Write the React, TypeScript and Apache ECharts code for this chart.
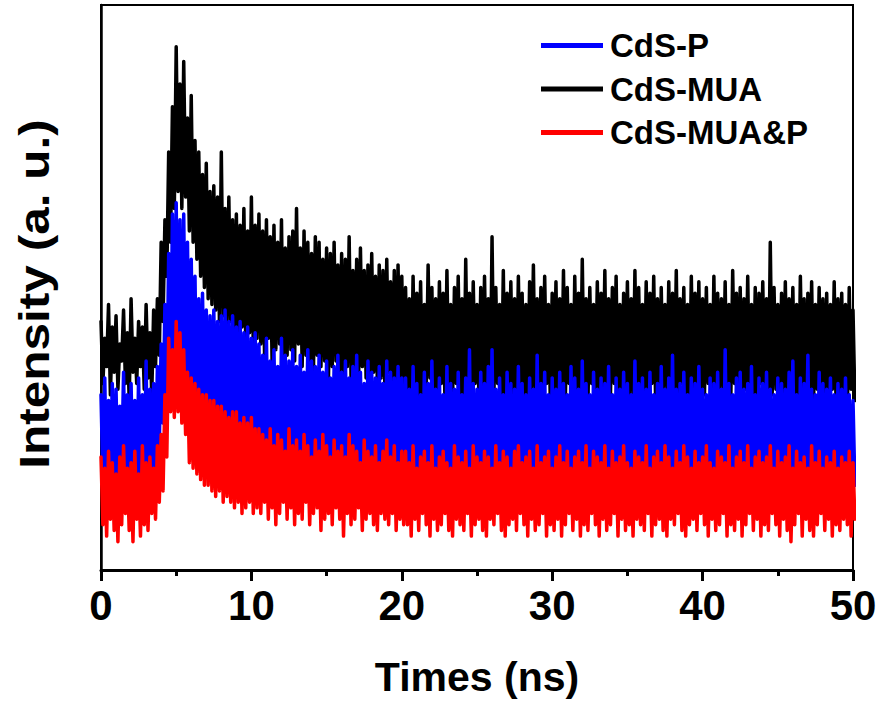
import React, { useEffect, useRef } from "react";
import * as echarts from "echarts";

const TIME_STEP = 0.25; // ns between envelope samples
const X_MIN = 0;
const X_MAX = 50;
const X_INTERVAL = 10;
const LEGEND_ORDER = ["CdS-P", "CdS-MUA", "CdS-MUA&P"];

// CdS-MUA (black): upper and lower excursions of the noisy trace, every 0.25 ns
const cdsMUAHigh = [
  44, 41, 47, 43, 45, 40, 46, 42, 48, 41, 44, 43, 47, 42, 46,
  48, 58, 62, 74, 82, 92.6, 86, 90, 80,
  84, 76, 74, 70, 72, 67, 68, 66, 74, 64, 66, 62, 63, 61, 64, 60, 66, 61,
  63, 60, 62, 59, 61, 58, 62, 57, 59, 60, 64, 57, 60, 58, 56, 59, 58, 55, 57, 56,
  58, 54, 56, 55, 59, 53, 55, 57, 53, 54, 56, 52, 54, 53, 55, 51, 53, 54, 52,
  50, 48, 52, 49, 51, 47, 54, 50, 48, 51,
  49, 53, 47, 50, 52, 48, 55, 49, 51, 47,
  50, 52, 48, 59, 50, 47, 53, 49, 51, 48,
  52, 49, 47, 51, 54, 48, 50, 52, 47, 49,
  51, 48, 53, 50, 47, 52, 49, 55, 48, 50,
  47, 51, 49, 53, 48, 50, 52, 47, 49, 51,
  48, 53, 50, 47, 51, 49, 52, 48, 50, 47,
  51, 49, 53, 48, 50, 47, 52, 49, 51, 48,
  50, 47, 52, 49, 48, 51, 47, 53, 49, 50,
  48, 52, 47, 50, 49, 51, 48, 58, 50, 47,
  49, 51, 48, 50, 47, 52, 48, 49, 51, 47,
  50, 48, 49, 47, 51, 48, 49, 47, 50, 46,
];
const cdsMUALow = [
  33, 36, 31, 35, 32, 37, 33, 30, 35, 33, 36, 32, 34, 31, 36,
  38, 44, 52, 58, 64, 67, 64, 66, 60,
  58, 55, 52, 50, 48, 47, 46, 44, 45, 43, 44, 42, 41, 43, 40, 42, 39, 41,
  40, 38, 41, 37, 39, 40, 36, 38, 39, 37, 40, 36, 38, 37, 35, 38, 36, 37, 34, 36,
  37, 35, 33, 36, 34, 35, 33, 36, 34, 32, 35, 33, 34, 32, 35, 33, 31, 34, 32,
  32, 30, 33, 31, 29, 32, 34, 30, 31, 33,
  29, 32, 30, 33, 31, 28, 32, 30, 33, 31,
  30, 32, 29, 31, 33, 30, 28, 32, 31, 30,
  33, 29, 31, 32, 30, 28, 31, 33, 30, 32,
  29, 31, 30, 33, 28, 32, 30, 31, 29, 33,
  31, 30, 32, 28, 31, 33, 29, 30, 32, 31,
  30, 28, 32, 31, 29, 33, 30, 27, 31, 32,
  29, 31, 30, 33, 28, 31, 32, 30, 29, 31,
  33, 30, 28, 32, 31, 29, 30, 33, 31, 28,
  32, 30, 31, 29, 33, 30, 28, 31, 32, 30,
  29, 31, 33, 30, 28, 32, 30, 31, 29, 32,
  30, 28, 31, 32, 29, 31, 30, 28, 32, 30,
];

// CdS-P (blue)
const cdsPHigh = [
  31, 34, 30, 33, 32, 29, 35, 31, 33, 30, 34, 31, 37, 32, 33,
  36, 40, 47, 56, 63, 65, 62, 63, 58,
  55, 52, 48, 49, 46, 45, 46, 44, 45, 46, 44, 45, 43, 44, 42, 43, 41, 42,
  40, 38, 41, 37, 39, 36, 41, 38, 37, 39, 36, 38, 35, 39, 37, 36, 38, 35, 37, 34,
  36, 38, 35, 37, 34, 36, 38, 35, 33, 37, 35, 34, 36, 33, 37, 35, 34, 36, 34,
  34, 32, 36, 33, 31, 35, 33, 37, 32, 34,
  31, 36, 33, 32, 35, 31, 34, 39, 33, 32,
  35, 33, 36, 39, 32, 34, 31, 35, 33, 32,
  36, 33, 31, 34, 32, 38, 33, 35, 31, 34,
  32, 35, 33, 31, 36, 34, 32, 37, 33, 31,
  35, 32, 34, 33, 36, 31, 34, 32, 35, 33,
  31, 37, 33, 34, 32, 35, 31, 33, 36, 32,
  34, 38, 32, 33, 35, 31, 34, 33, 36, 32,
  31, 34, 33, 35, 32, 39, 33, 31, 34, 35,
  32, 33, 36, 31, 34, 33, 35, 32, 31, 34,
  33, 32, 35, 37, 31, 34, 33, 38, 32, 31,
  35, 33, 32, 34, 31, 33, 32, 34, 31, 30,
];
const cdsPLow = [
  16, 13, 17, 12, 15, 18, 13, 11, 16, 14, 12, 17, 10, 15, 18,
  22, 26, 30, 32, 31, 33, 30, 32, 29,
  28, 26, 27, 25, 24, 26, 23, 25, 24, 22, 23, 24, 21, 23, 22, 20, 22, 21,
  19, 21, 18, 20, 19, 17, 20, 18, 21, 17, 19, 18, 20, 16, 18, 19, 17, 18, 16, 19,
  17, 18, 15, 19, 17, 16, 18, 15, 17, 16, 18, 15, 17, 16, 14, 17, 15, 16, 17,
  16, 14, 17, 13, 15, 12, 16, 14, 17, 13,
  15, 12, 16, 14, 13, 17, 15, 11, 14, 16,
  13, 15, 17, 12, 14, 16, 13, 15, 11, 14,
  16, 13, 15, 17, 12, 14, 16, 13, 15, 12,
  14, 17, 13, 15, 12, 16, 14, 13, 15, 11,
  16, 14, 12, 15, 17, 13, 14, 16, 12, 15,
  13, 14, 16, 12, 15, 13, 17, 14, 12, 15,
  16, 13, 14, 12, 15, 17, 13, 14, 16, 12,
  15, 13, 14, 16, 12, 15, 13, 17, 14, 12,
  15, 14, 13, 16, 12, 15, 14, 13, 16, 11,
  14, 16, 13, 15, 12, 14, 17, 13, 12, 15,
  14, 13, 16, 12, 15, 13, 14, 16, 13, 15,
];

// CdS-MUA&P (red)
const cdsMUAPHigh = [
  20, 18, 21, 19, 17, 20, 22, 18, 19, 21, 17, 22, 19, 20, 18,
  22, 24, 31, 41, 39, 44, 42, 39, 35,
  34, 33, 32, 31, 31, 30, 30, 29, 29, 28, 27, 28, 28, 26, 27, 26, 27, 25,
  25, 24, 23, 25, 22, 24, 23, 21, 25, 22, 23, 21, 24, 22, 20, 23, 21, 24, 22, 20,
  23, 21, 22, 20, 24, 22, 21, 19, 23, 21, 20, 22, 19, 21, 23, 20, 22, 19, 21,
  21, 19, 22, 18, 20, 21, 19, 22, 18, 20,
  21, 19, 18, 22, 20, 19, 21, 18, 22, 20,
  19, 21, 20, 18, 22, 19, 21, 20, 18, 21,
  22, 19, 20, 21, 18, 22, 19, 20, 21, 18,
  20, 22, 19, 21, 18, 20, 21, 19, 22, 18,
  21, 20, 19, 22, 18, 21, 19, 20, 22, 19,
  18, 21, 20, 19, 22, 18, 20, 21, 19, 22,
  20, 18, 21, 19, 22, 20, 18, 21, 19, 20,
  22, 19, 18, 21, 20, 19, 22, 18, 20, 21,
  19, 22, 18, 20, 21, 19, 20, 22, 18, 21,
  19, 20, 22, 18, 21, 19, 20, 18, 22, 19,
  21, 18, 20, 19, 21, 18, 20, 19, 21, 19,
];
const cdsMUAPLow = [
  8, 6, 9, 7, 5, 8, 10, 7, 5, 9, 6, 8, 7, 10, 9,
  12, 14, 20, 28, 27, 28, 26, 24, 19,
  18, 17, 16, 15, 15, 14, 13, 14, 12, 13, 12, 11, 12, 10, 11, 12, 10, 11,
  10, 12, 9, 11, 8, 10, 12, 9, 11, 8, 10, 9, 12, 8, 10, 11, 7, 9, 10, 8,
  11, 9, 6, 10, 8, 9, 11, 7, 9, 10, 8, 7, 10, 9, 8, 10, 7, 9, 8,
  8, 6, 9, 7, 10, 8, 6, 9, 7, 8,
  10, 7, 6, 9, 8, 7, 10, 6, 8, 9,
  7, 6, 9, 8, 10, 7, 6, 8, 9, 7,
  10, 8, 6, 9, 7, 8, 10, 6, 8, 7,
  9, 6, 8, 10, 7, 9, 6, 8, 7, 10,
  8, 6, 9, 7, 8, 10, 6, 9, 7, 8,
  6, 9, 8, 7, 10, 6, 8, 9, 7, 6,
  9, 8, 10, 7, 6, 8, 9, 7, 10, 8,
  6, 9, 7, 8, 10, 6, 8, 7, 9, 6,
  8, 10, 7, 9, 6, 8, 7, 10, 8, 6,
  9, 7, 5, 8, 10, 6, 9, 7, 6, 8,
  10, 7, 9, 6, 8, 7, 9, 8, 6, 9,
];

const FONT = "'Liberation Sans', Arial, sans-serif";

// Interleave the upper and lower excursions into one noisy trace
const toTrace = (high: number[], low: number[]) => {
  const out: number[][] = [];
  for (let i = 0; i < high.length; i++) {
    const t = i * TIME_STEP;
    out.push([t, high[i]]);
    if (i < low.length) out.push([t + TIME_STEP / 2, low[i]]);
  }
  return out;
};

export default function App() {
  const ref = useRef<HTMLDivElement>(null);
  useEffect(() => {
    if (!ref.current) return;
    const chart = echarts.init(ref.current, undefined, { renderer: "svg" });
    const lineSeries = (name: string, high: number[], low: number[], color: string) => ({
      name,
      type: "line",
      data: toTrace(high, low),
      showSymbol: false,
      symbol: "none",
      clip: true,
      color,
      lineStyle: { color, width: 3.5, cap: "round", join: "round" },
      emphasis: { disabled: true },
    });
    chart.setOption({
      animation: false,
      backgroundColor: "#fff",
      grid: {
        left: 101,
        right: 28,
        top: 5,
        bottom: 134,
        containLabel: false,
        show: true,
        borderColor: "#000",
        borderWidth: 2,
        backgroundColor: "transparent",
      },
      legend: {
        orient: "vertical",
        left: 541,
        top: 29,
        padding: 0,
        itemWidth: 62,
        itemHeight: 5,
        itemGap: 10.5,
        icon: "rect",
        selectedMode: false,
        data: LEGEND_ORDER,
        textStyle: { fontSize: 33, fontWeight: "bold", fontFamily: FONT, color: "#000", padding: [0, 0, 0, 2] },
      },
      xAxis: {
        type: "value",
        min: X_MIN,
        max: X_MAX,
        interval: X_INTERVAL,
        position: "bottom",
        name: "Times (ns)",
        nameLocation: "middle",
        nameGap: 86,
        nameTextStyle: { fontSize: 41, fontWeight: "bold", fontFamily: FONT, color: "#000" },
        axisLine: { show: true, onZero: false, lineStyle: { color: "#000", width: 3 } },
        axisTick: { show: true, inside: false, length: 11, lineStyle: { color: "#000", width: 3 } },
        minorTick: { show: true, splitNumber: 2, length: 6, lineStyle: { color: "#000", width: 3 } },
        splitLine: { show: false },
        axisLabel: { fontSize: 42, fontWeight: "bold", fontFamily: FONT, color: "#000", margin: 14 },
      },
      yAxis: {
        type: "value",
        min: 0,
        max: 100,
        position: "left",
        axisLine: { show: true, onZero: false, lineStyle: { color: "#000", width: 2.5 } },
        axisTick: { show: false },
        axisLabel: { show: false },
        splitLine: { show: false },
      },
      graphic: [
        {
          type: "text",
          x: 34,
          y: 294,
          rotation: Math.PI / 2,
          scaleX: 1.18,
          style: {
            text: "Intensity (a. u.)",
            fontSize: 42,
            fontWeight: "bold",
            fontFamily: FONT,
            fill: "#000",
            align: "center",
            verticalAlign: "middle",
          },
        },
      ],
      series: [
        lineSeries("CdS-MUA", cdsMUAHigh, cdsMUALow, "#000000"),
        lineSeries("CdS-P", cdsPHigh, cdsPLow, "#0000ff"),
        lineSeries("CdS-MUA&P", cdsMUAPHigh, cdsMUAPLow, "#ff0000"),
      ],
    });
    return () => chart.dispose();
  }, []);
  return (
    <div
      ref={ref}
      style={{ position: "absolute", left: 0, top: 0, width: 881, height: 704 }}
    />
  );
}
